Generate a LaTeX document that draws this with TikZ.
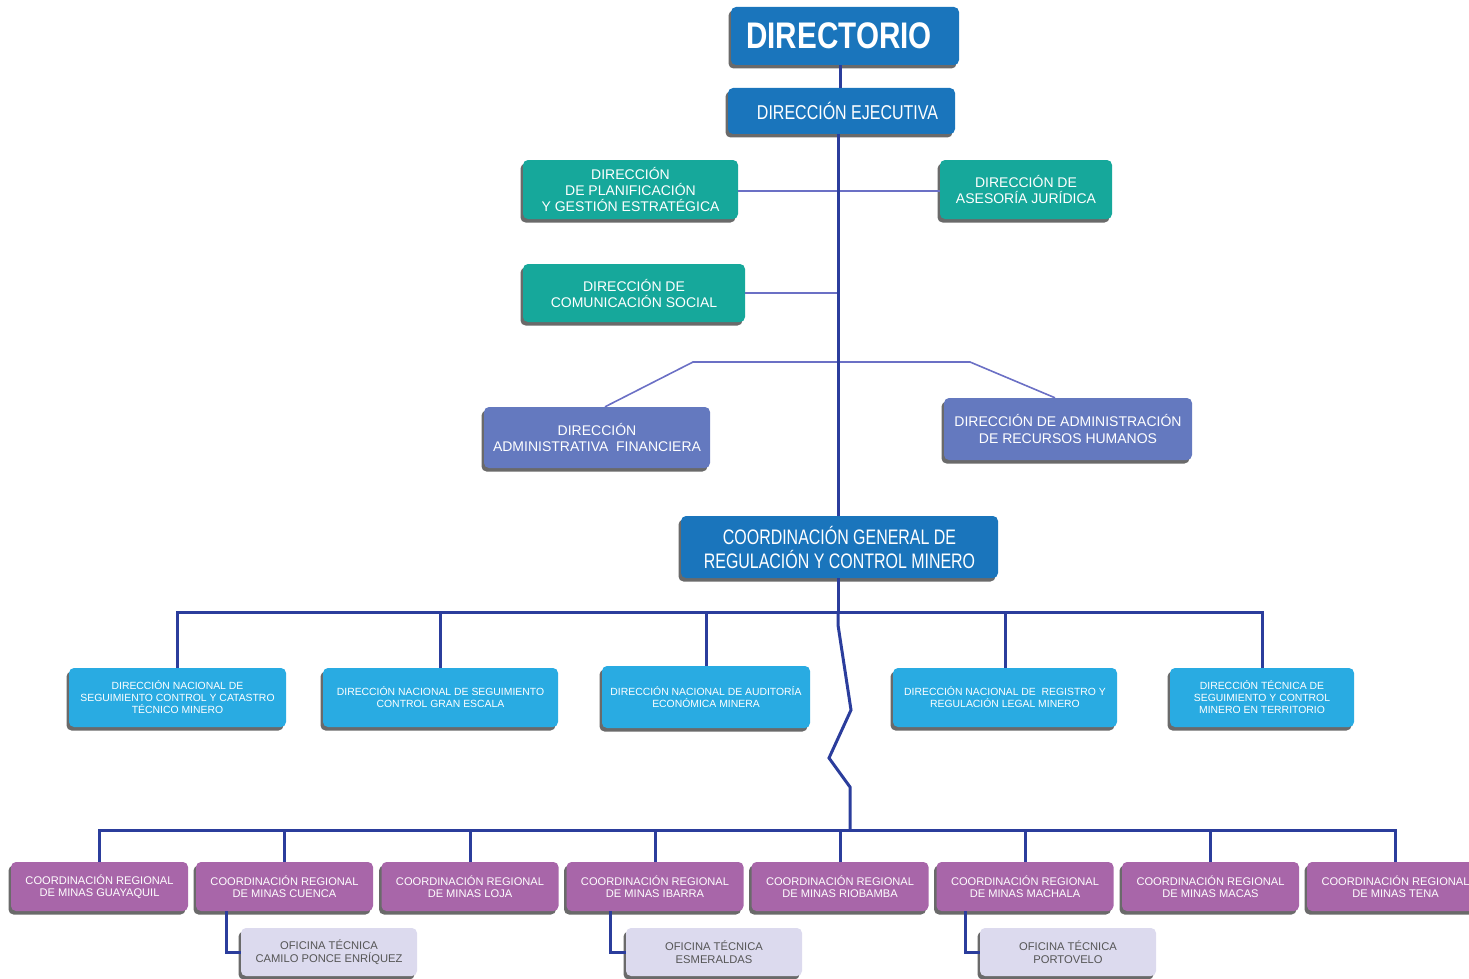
\documentclass[tikz,border=0pt]{standalone}
\usepackage{fontspec}
\setmainfont{Liberation Sans}
\newfontfamily\narrowfont[FakeStretch=0.8]{Liberation Sans}
\newfontfamily\cgfont[FakeStretch=0.76]{Liberation Sans}
\usetikzlibrary{shadows}
\definecolor{dblue}{HTML}{1A75BC}
\definecolor{teal2}{HTML}{16A89B}
\definecolor{slate}{HTML}{6479BF}
\definecolor{lblue}{HTML}{29ABE2}
\definecolor{purp}{HTML}{A866A9}
\definecolor{lav}{HTML}{DCDAEE}
\definecolor{linec}{HTML}{2B3D9C}
\definecolor{thinc}{HTML}{6B70C5}
\definecolor{shad}{HTML}{6A6A6A}
\definecolor{dtext}{HTML}{555555}
\begin{document}
\begin{tikzpicture}[x=1pt,y=-1pt,
  box/.style={rounded corners=5pt, inner sep=0pt, align=center, text=white,
    drop shadow={shadow xshift=-2.5pt, shadow yshift=-3.5pt, fill=shad, opacity=1}},
  topbox/.style={box, fill=dblue},
  tealbox/.style={box, fill=teal2, font=\fontsize{14}{16}\selectfont},
  slatebox/.style={box, fill=slate, font=\fontsize{14}{16.5}\selectfont},
  dnbox/.style={box, fill=lblue, minimum height=59pt, font=\fontsize{10.4}{12}\selectfont},
  crbox/.style={box, fill=purp, minimum width=177pt, minimum height=49pt, font=\fontsize{11.1}{12.5}\selectfont},
  ofbox/.style={box, fill=lav, text=dtext, minimum width=176pt, minimum height=48pt, font=\fontsize{11.2}{12.5}\selectfont},
  thick line/.style={draw=linec, line width=3pt},
  thin line/.style={draw=thinc, line width=1.6pt}]
\useasboundingbox (0,0) rectangle (1469,979);

% boxes
\node[topbox, minimum width=228pt, minimum height=58pt, font=\narrowfont\bfseries\fontsize{37}{40}\selectfont] (dir) at (845,36) {DIRECTORIO\hspace*{12pt}};
\node[topbox, minimum width=227pt, minimum height=46pt, font=\narrowfont\fontsize{20}{24}\selectfont] (ejec) at (841.5,111) {\hspace*{12pt}DIRECCIÓN EJECUTIVA};
\node[tealbox, minimum width=215pt, minimum height=59pt] (plan) at (630.5,189.5) {DIRECCIÓN\\DE PLANIFICACIÓN\\Y GESTIÓN ESTRATÉGICA};
\node[tealbox, minimum width=172pt, minimum height=59pt] (jur) at (1026,189.5) {DIRECCIÓN DE\\ASESORÍA JURÍDICA};
\node[tealbox, minimum width=222pt, minimum height=58pt] (com) at (634,293) {DIRECCIÓN DE\\COMUNICACIÓN SOCIAL};
\node[slatebox, minimum width=226pt, minimum height=61pt] (adm) at (597,437.5) {DIRECCIÓN\\ADMINISTRATIVA\ \ FINANCIERA};
\node[slatebox, minimum width=248pt, minimum height=62pt] (rrhh) at (1068,429) {DIRECCIÓN DE ADMINISTRACIÓN\\DE RECURSOS HUMANOS};
\node[topbox, minimum width=317pt, minimum height=62pt, font=\cgfont\fontsize{21}{24}\selectfont] (cg) at (839.5,547) {COORDINACIÓN GENERAL DE\\REGULACIÓN Y CONTROL MINERO};

\node[dnbox, minimum width=217pt] (dn1) at (177.5,697.5) {DIRECCIÓN NACIONAL DE\\SEGUIMIENTO CONTROL Y CATASTRO\\TÉCNICO MINERO};
\node[dnbox, minimum width=235pt] (dn2) at (440.5,697.5) {DIRECCIÓN NACIONAL DE SEGUIMIENTO\\CONTROL GRAN ESCALA};
\node[dnbox, minimum width=208pt, minimum height=62pt] (dn3) at (706,697) {DIRECCIÓN NACIONAL DE AUDITORÍA\\ECONÓMICA MINERA};
\node[dnbox, minimum width=224pt] (dn4) at (1005,697.5) {DIRECCIÓN NACIONAL DE\ \ REGISTRO Y\\REGULACIÓN LEGAL MINERO};
\node[dnbox, minimum width=184pt] (dn5) at (1262,697.5) {DIRECCIÓN TÉCNICA DE\\SEGUIMIENTO Y CONTROL\\MINERO EN TERRITORIO};

\node[crbox] (cr1) at (99.5,886.5) {COORDINACIÓN REGIONAL\\DE MINAS GUAYAQUIL};
\node[crbox] (cr2) at (284.5,886.5) {COORDINACIÓN REGIONAL\\DE MINAS CUENCA};
\node[crbox] (cr3) at (470,886.5) {COORDINACIÓN REGIONAL\\DE MINAS LOJA};
\node[crbox] (cr4) at (655,886.5) {COORDINACIÓN REGIONAL\\DE MINAS IBARRA};
\node[crbox] (cr5) at (840,886.5) {COORDINACIÓN REGIONAL\\DE MINAS RIOBAMBA};
\node[crbox] (cr6) at (1025,886.5) {COORDINACIÓN REGIONAL\\DE MINAS MACHALA};
\node[crbox] (cr7) at (1210.5,886.5) {COORDINACIÓN REGIONAL\\DE MINAS MACAS};
\node[crbox] (cr8) at (1395.5,886.5) {COORDINACIÓN REGIONAL\\DE MINAS TENA};

\node[ofbox] (of1) at (329,952) {OFICINA TÉCNICA\\CAMILO PONCE ENRÍQUEZ};
\node[ofbox] (of2) at (714,952) {OFICINA TÉCNICA\\ESMERALDAS};
\node[ofbox] (of3) at (1068,952) {OFICINA TÉCNICA\\PORTOVELO};

% connectors
\coordinate (sp) at (838,0);
\coordinate (pj) at (0,191);
\coordinate (aL) at (693,362);
\coordinate (aR) at (970,362);
\coordinate (bus1) at (838,612);
\coordinate (z1) at (838,625);
\coordinate (z2) at (851,710);
\coordinate (z3) at (829,758);
\coordinate (z4) at (850,787);
\coordinate (bus2) at (850,830);

\draw[thin line] (plan.east |- pj) -- (jur.west |- pj);
\draw[thin line] (com.east) -- (com.east -| sp);
\draw[thin line] ([xshift=8pt]adm.north) -- (aL) -- (aR) -- ([xshift=-13pt]rrhh.north);

\draw[thick line] (dir.south -| ejec.north) ++(-1.5,0) -- ([xshift=-1.5pt]ejec.north);
\draw[thick line] (ejec.south -| sp) -- (cg.north -| sp);
\draw[thick line] (cg.south -| sp) -- (bus1);
\draw[thick line] (dn1.north) |- (bus1) -| (dn5.north);
\foreach \n in {dn2,dn3,dn4} \draw[thick line] (\n.north) -- (\n.north |- bus1);
\draw[thick line] (bus1) -- (z1) -- (z2) -- (z3) -- (z4) -- (bus2);
\draw[thick line] (cr1.north) |- (bus2) -| (cr8.north);
\foreach \n in {cr2,cr3,cr4,cr5,cr6,cr7} \draw[thick line] (\n.north) -- (\n.north |- bus2);
\draw[thick line] ([xshift=-58pt]cr2.south) |- (of1.west);
\draw[thick line] ([xshift=-45pt]cr4.south) |- (of2.west);
\draw[thick line] ([xshift=-60pt]cr6.south) |- (of3.west);
\end{tikzpicture}
\end{document}
